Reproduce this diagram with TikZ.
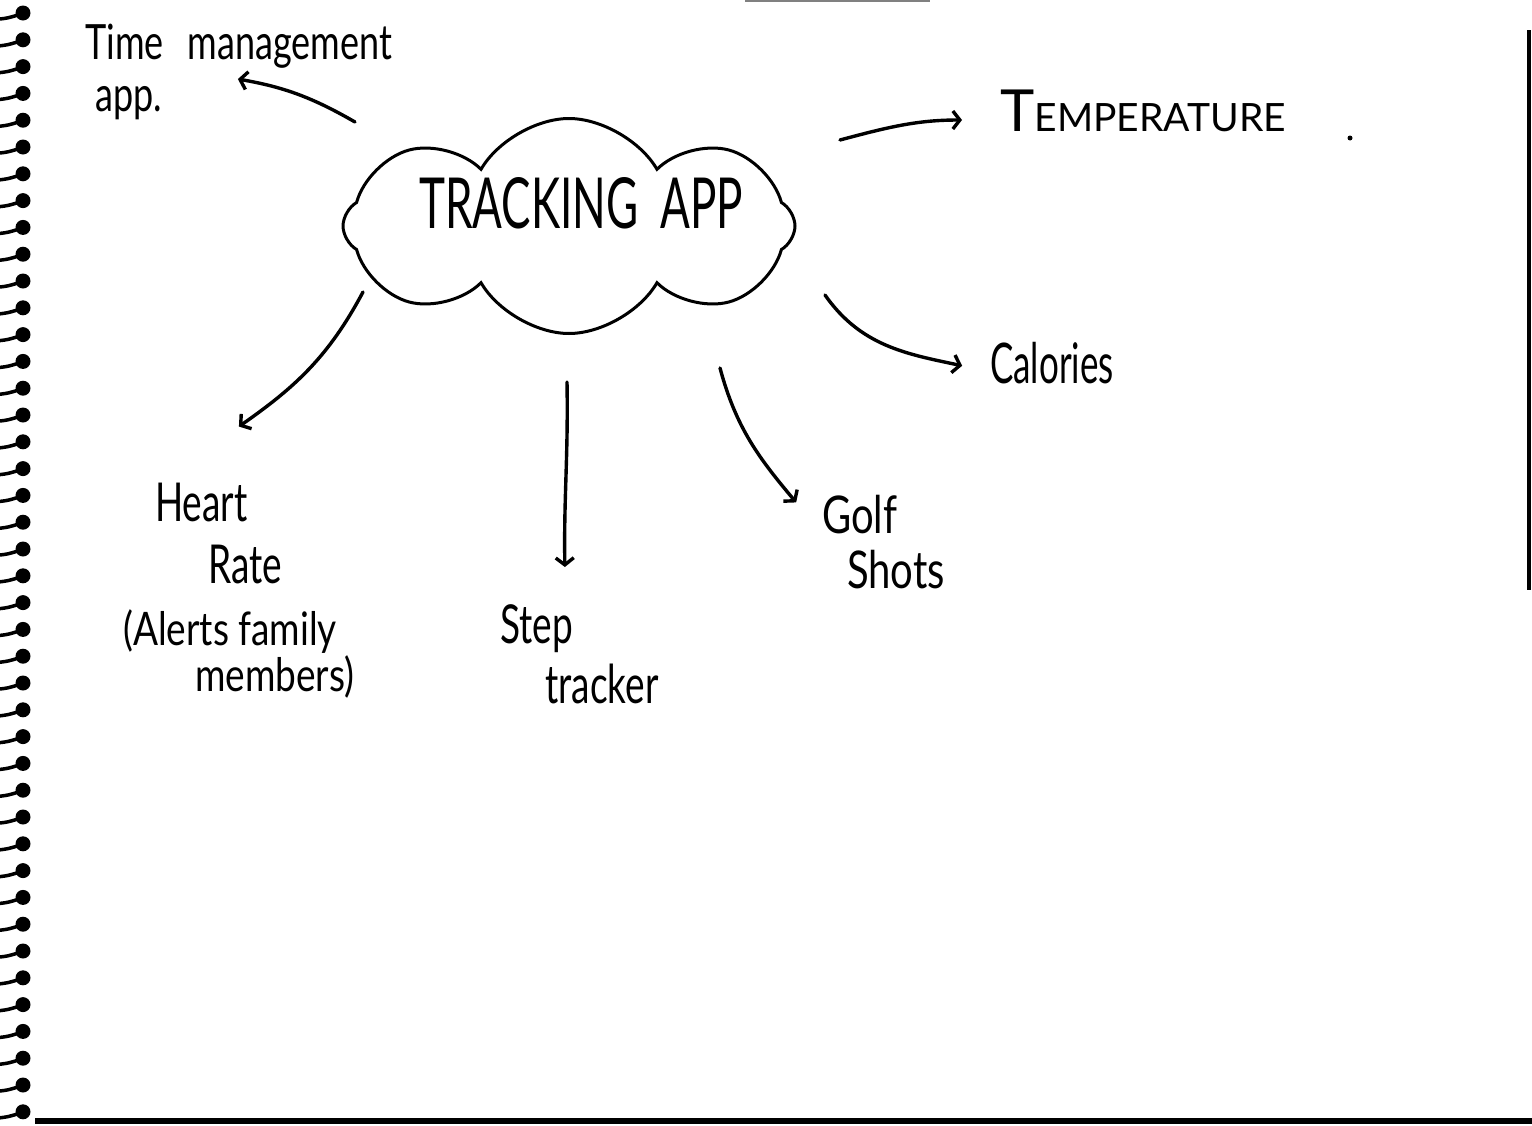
\documentclass[tikz,border=0pt]{standalone}
\usepackage{fontspec}
\setmainfont{Lato}
\usetikzlibrary{shapes.symbols,arrows.meta}
\newcommand{\hw}[2][1.45]{\scalebox{1}[#1]{#2}}
\newcommand{\nolsk}{\lineskiplimit=-100pt\relax}
\begin{document}
\begin{tikzpicture}[x=1pt,y=1pt,
  ink/.style={line width=3.4pt, line cap=round, black},
  arr/.style={ink, -{Straight Barb[length=7pt,width=18pt,sep=6pt]}},
  lbl/.style={inner sep=0pt, anchor=north west, align=left},
]
\useasboundingbox[fill=white] (0,0) rectangle (1532,-1125);

% notebook spiral, page edges
\foreach \i in {0,...,41}{
  \fill (23,{-13-26.8*\i}) circle (7.5pt);
  \draw[line width=3.5pt] (0,{-19-26.8*\i}) .. controls (8,{-18-26.8*\i}) .. (18,{-15-26.8*\i});
}
\draw[line width=6pt] (35,-1121) -- (1532,-1121);
\draw[line width=4pt] (1529,-30) -- (1529,-590);
\draw[gray, line width=1.5pt] (745,-1) -- (930,-1);
\fill (1350,-138) circle (2.5pt);

% central cloud
\node[cloud, draw, line width=3pt, cloud puffs=8, cloud puff arc=120, aspect=2.1,
      minimum width=452pt, minimum height=215pt, inner sep=0pt] (cloud) at (569,-226) {};
\node[inner sep=0pt, font={\fontsize{44}{50}\selectfont}] (title) at (581,-203)
  {\hw[1.6]{TRACKING\hspace{22pt}APP}};

% labels
\node[lbl, font={\fontsize{36}{52}\selectfont}] (tm) at (85,-24)
  {\hw[1.35]{Time\hspace{24pt}management}\\\hspace*{10pt}\hw[1.35]{app.}};
\node[lbl] (temp) at (1000,-90)
  {\fontsize{58}{60}\selectfont T\fontsize{39}{45}\selectfont EMPERATURE};
\node[lbl, font={\fontsize{35}{40}\selectfont}] (cal) at (990,-342) {\hw[1.6]{Calories}};
\node[lbl, font={\fontsize{40}{55}\selectfont\nolsk}] (golf) at (822,-495)
  {\hw[1.3]{Golf}\\\hspace*{25pt}\hw[1.3]{Shots}};
\node[lbl, font={\fontsize{37}{60}\selectfont\nolsk}] (step) at (500,-604)
  {\hw{Step}\\\hspace*{45pt}\hw{tracker}};
\node[lbl, font={\fontsize{37}{62}\selectfont\nolsk}] (heart) at (123,-483)
  {\hspace*{32pt}\hw{Heart}\\\hspace*{85pt}\hw{Rate}\\\hw[1.25]{(Alerts family}\\[-16pt]\hspace*{72pt}\hw[1.25]{members)}};

% connectors
\draw[arr] ([shift={(-214pt,104pt)}]cloud.center) to[out=150,in=-10]
  ([shift={(147pt,-54pt)}]tm.north west);
\draw[arr] ([shift={(271pt,86pt)}]cloud.center) to[out=15,in=180]
  ([shift={(-32pt,-30pt)}]temp.north west);
\draw[arr] ([shift={(256pt,-69pt)}]cloud.center) to[out=-55,in=168]
  ([shift={(-22pt,-25pt)}]cal.north west);
\draw[arr] ([shift={(151pt,-142pt)}]cloud.center) to[out=-75,in=130]
  ([shift={(-22pt,-12pt)}]golf.north west);
\draw[arr] ([shift={(-2pt,-156pt)}]cloud.center) to[out=-89,in=91]
  ([shift={(65pt,31pt)}]step.north west);
\draw[arr] ([shift={(-206pt,-66pt)}]cloud.center) to[out=-118,in=35]
  ([shift={(111pt,53pt)}]heart.north west);
\end{tikzpicture}
\end{document}
